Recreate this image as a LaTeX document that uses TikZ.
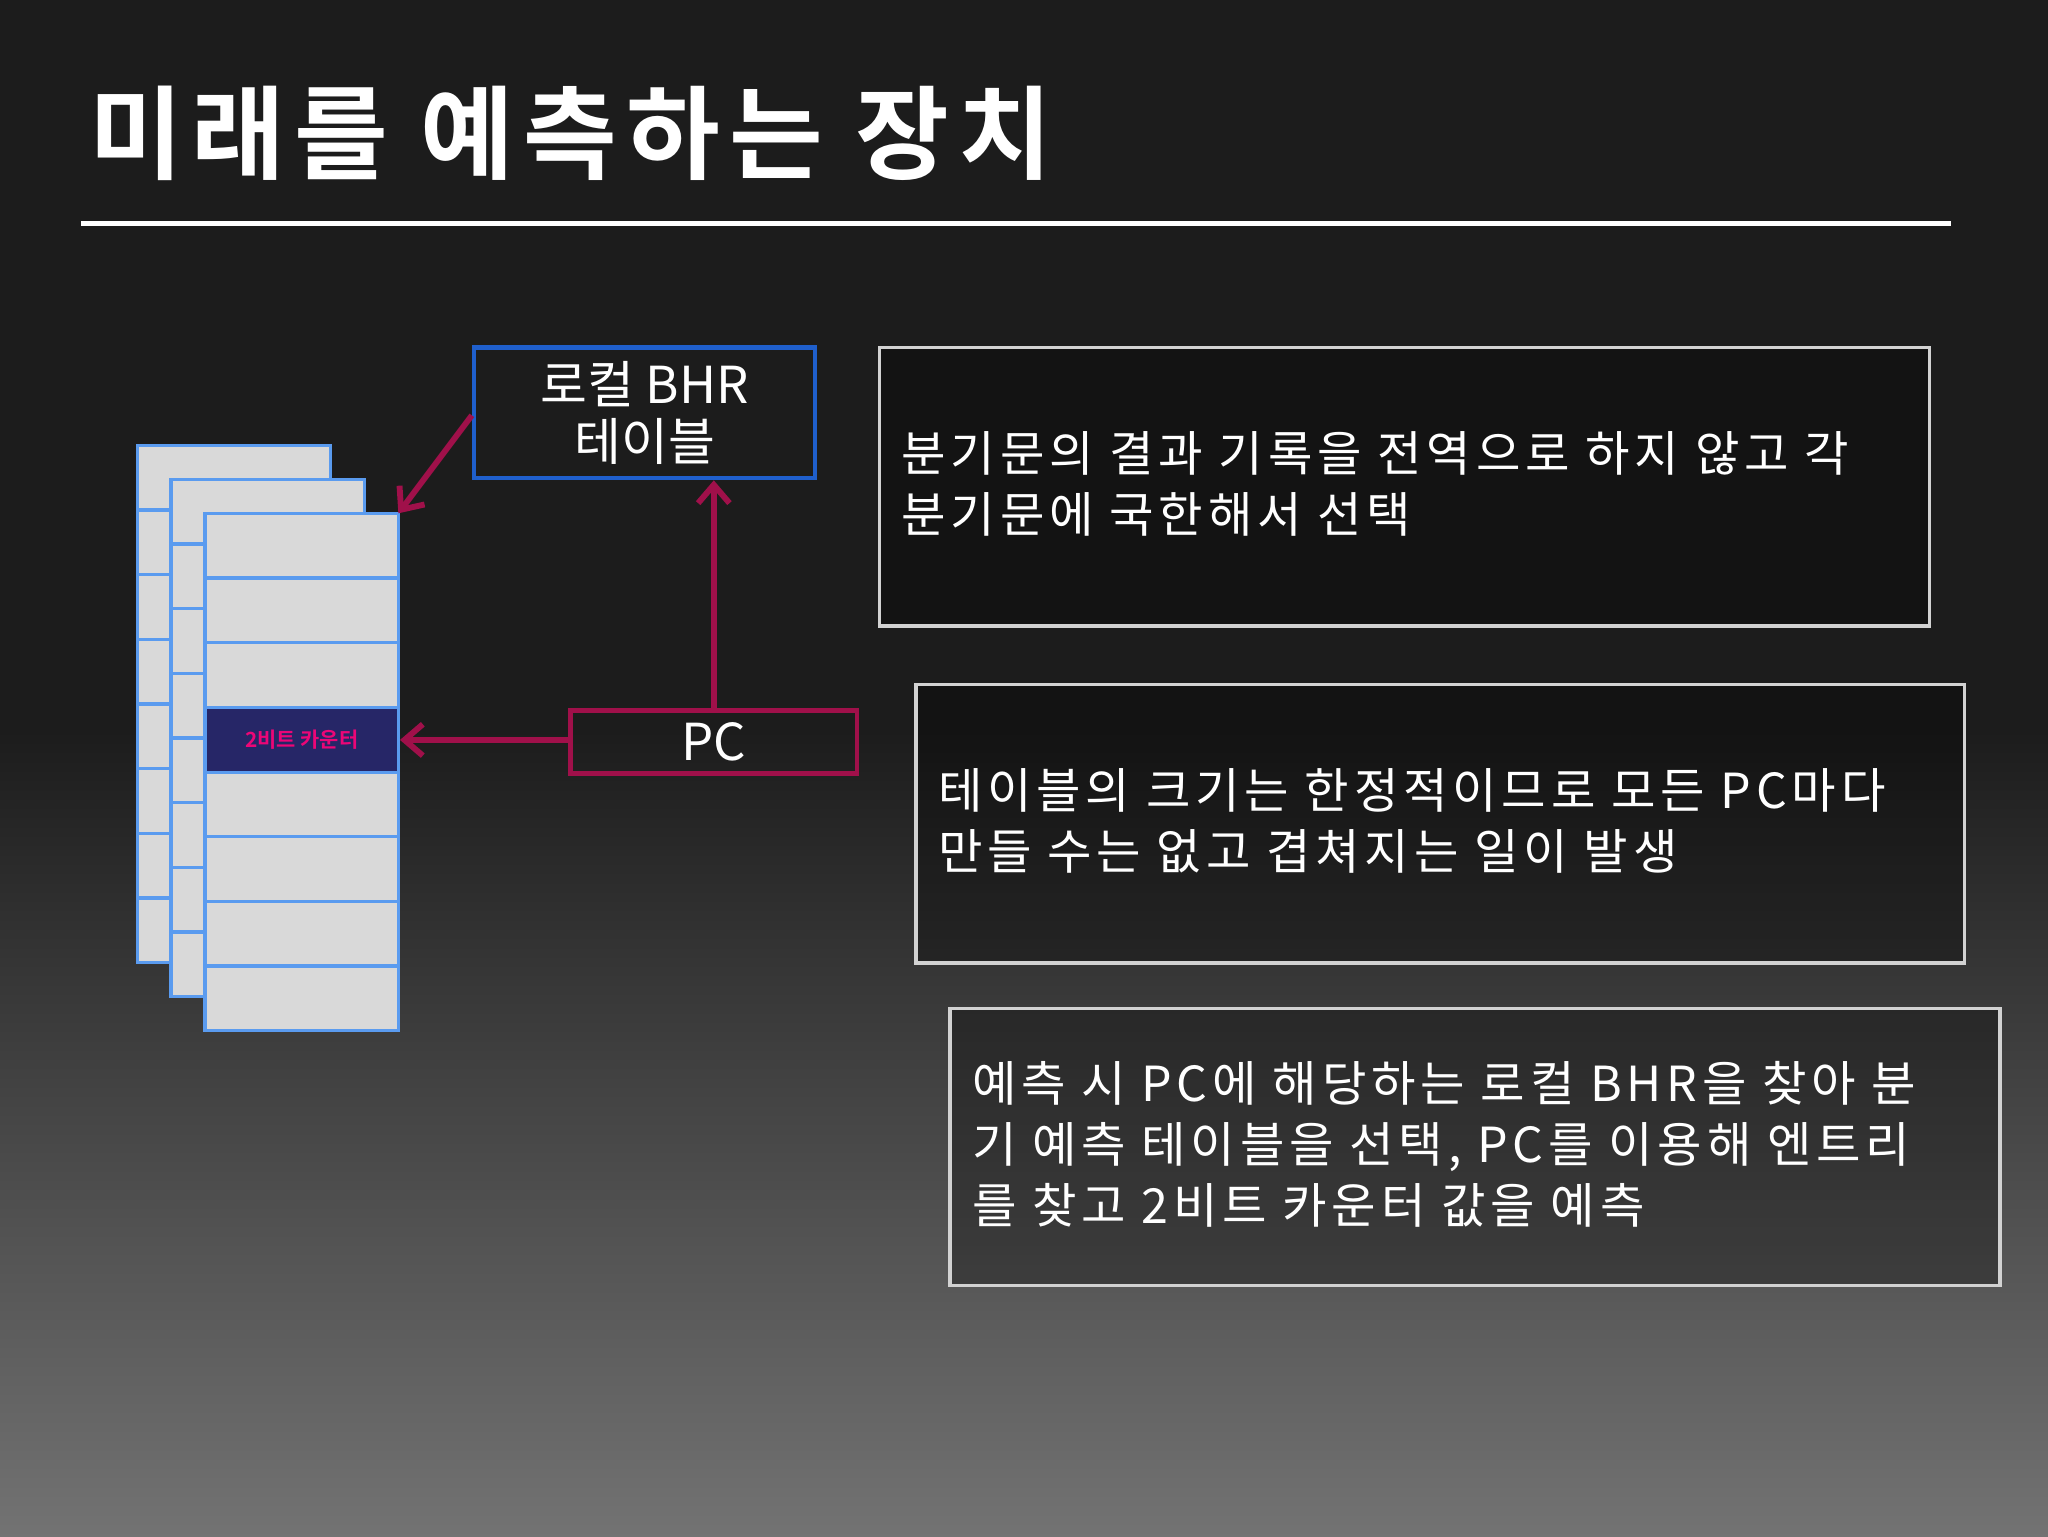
\documentclass[tikz,border=0pt]{standalone}
\usepackage{fontspec}
\newfontfamily\kr[LetterSpace=10]{Noto Sans CJK KR}
\newfontfamily\krn{Noto Sans CJK KR}
\newfontfamily\krb[LetterSpace=9]{Noto Sans CJK KR Bold}
\newfontfamily\krbn{Noto Sans CJK KR Bold}
\usetikzlibrary{arrows.meta}
\definecolor{crim}{HTML}{A0104A}
\definecolor{tblue}{HTML}{5A9BEF}
\definecolor{bblue}{HTML}{1F5FCC}
\tikzset{
  cell/.style={draw=tblue,line width=2.5pt,fill=gray!30},
  txtbox/.style={draw=gray!35,line width=2.5pt,fill=black,fill opacity=0.3,text opacity=1},
  para/.style={text=white,font=\kr\fontsize{37}{47}\selectfont,align=left,anchor=north west,inner sep=0pt},
  arr/.style={draw=crim,line width=4.5pt,-{Straight Barb[length=14pt,width=24pt,line width=4.5pt]}}
}
\begin{document}
\begin{tikzpicture}[x=1pt,y=-1pt]
\useasboundingbox (0,0) rectangle (1568,1176);
\fill[black!89] (0,0) rectangle (1568,560);
\shade[top color=black!89,bottom color=black!55] (0,559) rectangle (1568,1176);
\node[anchor=west,text=white,font=\krb\fontsize{78}{80}\selectfont,inner sep=0pt] (title) at (68,102) {미래를 예측하는 장치};
\draw[white,line width=4pt] (62,171) -- (1494,171);
% tables
\foreach \dx in {0,26,52}{
  \foreach \r in {0,...,7}{
    \draw[cell] (105+\dx,341+\dx+\r*49.5) rectangle (253+\dx,341+\dx+\r*49.5+49.5);
  }
}
\coordinate (tabtop) at (305,393);
\node[draw=tblue,line width=2.5pt,fill=blue!30!black!85,minimum width=148pt,minimum height=49.5pt,inner sep=0pt,text=magenta!80!red,font=\krbn\fontsize{16}{16}\selectfont] (cnt) at (231,566.5) {2비트 카운터};
\node[draw=bblue,line width=3.5pt,minimum width=261pt,minimum height=100pt,inner sep=0pt,text=white,align=center,font=\krn\fontsize{39}{44}\selectfont] (bhr) at (493.5,316) {로컬 BHR\\테이블};
\node[draw=crim,line width=3.5pt,minimum width=219pt,minimum height=48pt,inner sep=0pt,text=white,font=\krn\fontsize{39}{40}\selectfont] (pc) at (546.5,568) {PC};
\draw[arr] (pc.west |- cnt.east) -- (cnt.east);
\draw[arr] (pc.north) -- (bhr.south -| pc.north);
\draw[arr] (bhr.west) ++(0,2) -- (tabtop);
% text boxes
\node[txtbox,minimum width=804pt,minimum height=213pt,anchor=north west,inner sep=0pt] (b1) at (672,265) {};
\node[para] (t1) at (690,330) {분기문의 결과 기록을 전역으로 하지 않고 각\\분기문에 국한해서 선택};
\node[txtbox,minimum width=803pt,minimum height=213pt,anchor=north west,inner sep=0pt] (b2) at (700,523) {};
\node[para] (t2) at (718,588) {테이블의 크기는 한정적이므로 모든 PC마다\\만들 수는 없고 겹쳐지는 일이 발생};
\node[txtbox,minimum width=804pt,minimum height=212pt,anchor=north west,inner sep=0pt] (b3) at (726,771) {};
\node[para] (t3) at (744,812) {예측 시 PC에 해당하는 로컬 BHR을 찾아 분\\기 예측 테이블을 선택, PC를 이용해 엔트리\\를 찾고 2비트 카운터 값을 예측};
\end{tikzpicture}
\end{document}
